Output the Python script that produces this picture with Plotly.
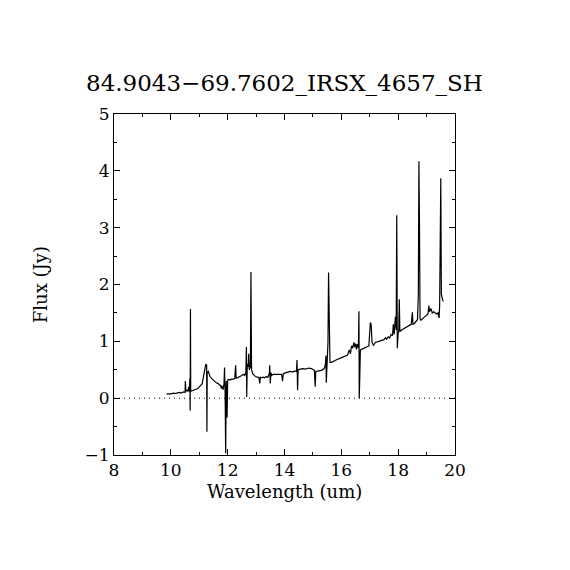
import plotly.graph_objects as go

# Spectrum values (wavelength in um, flux in Jy)
wavelength = [
    9.85, 9.90, 9.95, 10.00, 10.05, 10.10, 10.15, 10.20, 10.25, 10.30, 10.35, 10.40, 10.45, 10.50,
    10.51, 10.53, 10.56, 10.60, 10.63, 10.65, 10.67, 10.68, 10.69, 10.70, 10.75, 10.80, 10.85, 10.90,
    10.95, 11.00, 11.05, 11.10, 11.15, 11.20, 11.23, 11.26, 11.27, 11.28, 11.32, 11.38, 11.45, 11.50,
    11.55, 11.60, 11.65, 11.70, 11.75, 11.78, 11.80, 11.84, 11.87, 11.89, 11.91, 11.93, 11.95, 11.98,
    12.00, 12.05, 12.10, 12.15, 12.20, 12.25, 12.28, 12.30, 12.35, 12.40, 12.45, 12.50, 12.55, 12.60,
    12.64, 12.66, 12.67, 12.69, 12.72, 12.74, 12.76, 12.80, 12.82, 12.84, 12.88, 12.93, 12.98, 13.05,
    13.10, 13.13, 13.15, 13.20, 13.25, 13.30, 13.35, 13.42, 13.47, 13.48, 13.50, 13.52, 13.55, 13.60,
    13.70, 13.80, 13.90, 13.93, 13.96, 14.00, 14.10, 14.20, 14.30, 14.35, 14.42, 14.44, 14.46, 14.48,
    14.55, 14.65, 14.75, 14.85, 14.95, 15.00, 15.05, 15.08, 15.10, 15.20, 15.30, 15.40, 15.44, 15.46,
    15.47, 15.50, 15.53, 15.55, 15.57, 15.60, 15.66, 15.75, 15.85, 15.95, 16.05, 16.15, 16.22, 16.28,
    16.32, 16.36, 16.40, 16.44, 16.47, 16.50, 16.53, 16.56, 16.60, 16.62, 16.63, 16.65, 16.67, 16.72,
    16.80, 16.90, 16.97, 17.02, 17.05, 17.08, 17.13, 17.20, 17.30, 17.40, 17.50, 17.55, 17.60, 17.65,
    17.70, 17.75, 17.80, 17.83, 17.86, 17.90, 17.93, 17.95, 17.97, 18.00, 18.02, 18.04, 18.06, 18.12,
    18.20, 18.30, 18.40, 18.46, 18.50, 18.52, 18.56, 18.62, 18.68, 18.71, 18.73, 18.75, 18.77, 18.80,
    18.85, 18.90, 18.95, 19.00, 19.05, 19.08, 19.10, 19.15, 19.20, 19.25, 19.30, 19.35, 19.40, 19.44,
    19.46, 19.48, 19.50, 19.52, 19.54, 19.57, 19.59,
]
flux = [
    0.07, 0.08, 0.07, 0.08, 0.08, 0.09, 0.08, 0.09, 0.09, 0.10, 0.09, 0.10, 0.11, 0.10,
    0.30, 0.12, 0.14, 0.12, 0.20, 0.12, 0.35, -0.22, 1.57, 0.12, 0.13, 0.14, 0.14, 0.15,
    0.17, 0.20, 0.22, 0.25, 0.38, 0.55, 0.60, 0.58, -0.59, 0.45, 0.47, 0.38, 0.34, 0.31,
    0.29, 0.27, 0.26, 0.24, 0.22, 0.17, 0.22, 0.15, 0.25, 0.54, 0.10, -0.97, 0.30, -0.34,
    0.32, 0.33, 0.32, 0.34, 0.33, 0.35, 0.58, 0.35, 0.36, 0.37, 0.38, 0.40, 0.42, 0.40,
    0.45, 0.90, 0.02, 0.60, 0.55, 0.78, 0.50, 0.55, 2.22, 0.50, 0.43, 0.41, 0.38, 0.37,
    0.36, 0.26, 0.37, 0.36, 0.37, 0.36, 0.38, 0.37, 0.45, 0.58, 0.26, 0.45, 0.40, 0.42,
    0.42, 0.41, 0.42, 0.30, 0.43, 0.44, 0.45, 0.47, 0.46, 0.48, 0.47, 0.67, 0.14, 0.50,
    0.51, 0.52, 0.51, 0.53, 0.52, 0.50, 0.49, 0.20, 0.47, 0.48, 0.49, 0.52, 0.60, 0.75,
    0.27, 0.62, 0.98, 2.21, 0.98, 0.63, 0.63, 0.66, 0.68, 0.70, 0.72, 0.74, 0.76, 0.85,
    0.78, 0.92, 0.88, 0.98, 0.90, 0.96, 0.86, 0.95, 0.88, 1.53, 0.00, 0.38, 0.85, 0.86,
    0.88, 0.90, 0.92, 1.33, 1.30, 0.98, 0.93, 0.98, 1.00, 1.02, 1.03, 1.06, 1.04, 1.08,
    1.06, 1.12, 1.10, 1.30, 1.12, 1.43, 1.20, 3.22, 0.88, 1.15, 1.18, 1.74, 1.17, 1.20,
    1.22, 1.25, 1.28, 1.30, 1.51, 1.30, 1.31, 1.34, 1.38, 1.82, 4.17, 3.05, 1.40, 1.37,
    1.40, 1.42, 1.44, 1.46, 1.48, 1.63, 1.52, 1.58, 1.50, 1.52, 1.49, 1.48, 1.50, 1.41,
    1.64, 2.72, 3.87, 1.83, 1.75, 1.72, 1.70,
]

x_ticks = [8, 10, 12, 14, 16, 18, 20]
x_tick_labels = ["8", "10", "12", "14", "16", "18", "20"]
y_ticks = [-1, 0, 1, 2, 3, 4, 5]
y_tick_labels = ["\u22121", "0", "1", "2", "3", "4", "5"]

title_text = "84.9043\u221269.7602_IRSX_4657_SH"
x_label = "Wavelength (um)"
y_label = "Flux (Jy)"

FONT = "DejaVu Serif"

fig = go.Figure()
fig.add_trace(go.Scatter(
    x=[8, 20], y=[0, 0], mode="lines",
    line=dict(color="black", width=1, dash="1px,4px"),
    hoverinfo="skip", showlegend=False,
))
fig.add_trace(go.Scatter(
    x=wavelength, y=flux, mode="lines",
    line=dict(color="black", width=1.2),
    showlegend=False,
))

axis_common = dict(
    showgrid=False, zeroline=False, showline=True, linecolor="black", linewidth=1,
    mirror="ticks", ticks="inside", ticklen=6, tickwidth=1, tickcolor="black",
    tickfont=dict(family=FONT, size=17, color="black"),
)
fig.update_xaxes(
    range=[8, 20], tickvals=x_ticks, ticktext=x_tick_labels,
    minor=dict(dtick=1, ticks="inside", ticklen=3, tickcolor="black", tickwidth=1),
    **axis_common,
)
fig.update_yaxes(
    range=[-1, 5], tickvals=y_ticks, ticktext=y_tick_labels,
    minor=dict(dtick=0.5, ticks="inside", ticklen=3, tickcolor="black", tickwidth=1),
    **axis_common,
)

fig.update_layout(
    width=562, height=562,
    margin=dict(l=106, r=115, t=106, b=115),
    paper_bgcolor="white", plot_bgcolor="white",
    annotations=[
        dict(text=title_text, xref="paper", yref="paper", x=0.5, y=1.091,
             xanchor="center", yanchor="middle", showarrow=False,
             font=dict(family=FONT, size=23, color="black")),
        dict(text=x_label, xref="paper", yref="paper", x=0.5, y=-0.108,
             xanchor="center", yanchor="middle", showarrow=False,
             font=dict(family=FONT, size=18, color="black")),
        dict(text=y_label, xref="paper", yref="paper", x=-0.215, y=0.5,
             xanchor="center", yanchor="middle", showarrow=False, textangle=-90,
             font=dict(family=FONT, size=18, color="black")),
    ],
)

fig.write_html("out.html")
